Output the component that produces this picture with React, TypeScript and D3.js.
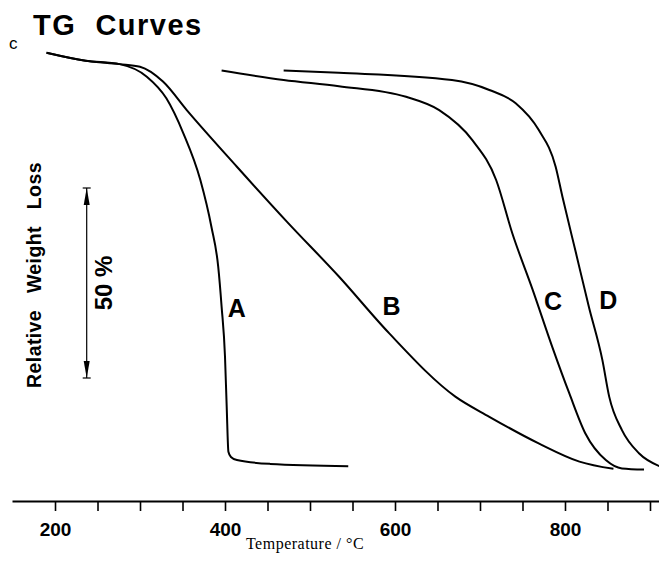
import React, { useRef, useEffect } from 'react';
import * as d3 from 'd3';

// temperature (°C) and relative weight loss (%)
const curveA = [
  [190, 1.9], [236, 4.0], [276, 4.9], [308, 8.2], [331, 13.9], [351, 23.1],
  [371, 35.4], [384, 47.7], [392, 58.2], [396, 68.7], [400, 81.9], [402, 95.1],
  [404, 106.9], [407, 108.3], [414, 109.1], [453, 110.1], [545, 110.7],
];
const curveB = [
  [190, 1.9], [236, 4.0], [276, 4.9], [300, 5.6], [327, 9.5], [355, 17.0],
  [414, 31.9], [473, 46.4], [534, 60.8], [593, 75.7], [671, 92.4], [711, 97.7],
  [769, 104.7], [817, 109.5], [857, 111.4],
];
const curveC = [
  [396, 6.6], [469, 9.1], [534, 10.7], [613, 13.5], [652, 17.0], [691, 24.9],
  [719, 35.4], [738, 49.4], [762, 64.3], [785, 79.3], [805, 91.5], [824, 102.1],
  [848, 109.1], [867, 111.3], [893, 111.6],
];
const curveD = [
  [469, 6.6], [534, 7.2], [667, 9.1], [711, 11.7], [742, 15.2], [769, 22.2],
  [789, 31.9], [797, 39.8], [813, 54.7], [828, 68.7], [844, 82.8], [852, 92.4],
  [867, 101.2], [887, 107.3], [911, 110.7],
];
const curveNames = ['A', 'B', 'C', 'D'];
// label anchor (temperature, % loss) for each curve letter
const labelPos = [[414, 71.5], [596, 70.9], [786, 69.7], [851, 69.4]];
const tickValues = d3.range(200, 901, 50);
const labelledTicks = [200, 400, 600, 800];
const scaleBar = [37.5, 87.5]; // the "50 %" bar

const font = 'Liberation Sans, Arial, Helvetica, sans-serif';

const App = () => {
  const ref = useRef(null);

  useEffect(() => {
    const svg = d3.select(ref.current);
    svg.selectAll('*').remove();

    const x = d3.scaleLinear().domain([149.4, 910.6]).range([12, 659]);
    const y = d3.scaleLinear().domain([0, 100]).range([45.5, 425.5]);

    // title + panel letter
    svg.append('text')
      .attr('x', 33).attr('y', 35)
      .attr('font-family', font).attr('font-weight', 'bold')
      .attr('font-size', 29).attr('letter-spacing', 1.5)
      .attr('xml:space', 'preserve')
      .text('TG  Curves');
    svg.append('text')
      .attr('x', 9).attr('y', 49)
      .attr('font-family', font).attr('font-size', 17)
      .text('c');

    // x axis
    const axis = svg.append('g')
      .attr('transform', 'translate(0,501)')
      .call(d3.axisBottom(x)
        .tickValues(tickValues)
        .tickSize(10)
        .tickSizeOuter(0)
        .tickPadding(11.5)
        .tickFormat(d => (labelledTicks.includes(d) ? String(d) : '')));
    axis.select('.domain').attr('stroke-width', 1.8);
    axis.selectAll('.tick line').attr('stroke-width', 1.6);
    axis.selectAll('text')
      .attr('font-family', font).attr('font-weight', 'bold')
      .attr('font-size', 19).attr('fill', '#000');

    svg.append('text')
      .attr('x', 305).attr('y', 549)
      .attr('text-anchor', 'middle')
      .attr('font-family', 'Liberation Serif, Times New Roman, serif')
      .attr('font-size', 16).attr('letter-spacing', 0.5)
      .text('Temperature / °C');

    // y label
    svg.append('text')
      .attr('transform', 'translate(40.5,275) rotate(-90)')
      .attr('text-anchor', 'middle')
      .attr('font-family', font).attr('font-weight', 'bold')
      .attr('font-size', 19.5).attr('letter-spacing', 0.4)
      .attr('word-spacing', 11)
      .text('Relative Weight Loss');

    // 50 % scale bar
    const bx = 86.7;
    const y0 = y(scaleBar[0]);
    const y1 = y(scaleBar[1]);
    const bar = svg.append('g').attr('stroke', '#000');
    bar.append('line').attr('x1', bx).attr('x2', bx).attr('y1', y0).attr('y2', y1).attr('stroke-width', 1.2);
    bar.append('line').attr('x1', bx - 4).attr('x2', bx + 4).attr('y1', y0).attr('y2', y0).attr('stroke-width', 1.2);
    bar.append('line').attr('x1', bx - 4).attr('x2', bx + 4).attr('y1', y1).attr('y2', y1).attr('stroke-width', 1.2);
    bar.append('path')
      .attr('d', `M${bx},${y0} L${bx - 3},${y0 + 17} L${bx + 3},${y0 + 17} Z`)
      .attr('fill', '#000').attr('stroke', 'none');
    bar.append('path')
      .attr('d', `M${bx},${y1} L${bx - 3},${y1 - 17} L${bx + 3},${y1 - 17} Z`)
      .attr('fill', '#000').attr('stroke', 'none');
    svg.append('text')
      .attr('transform', `translate(111.5,${(y0 + y1) / 2}) rotate(-90)`)
      .attr('text-anchor', 'middle')
      .attr('font-family', font).attr('font-weight', 'bold')
      .attr('font-size', 24)
      .text('50 %');

    // curves
    const line = d3.line()
      .x(d => x(d[0]))
      .y(d => y(d[1]))
      .curve(d3.curveMonotoneX);

    svg.append('g')
      .selectAll('path')
      .data([curveA, curveB, curveC, curveD])
      .join('path')
      .attr('d', d => line(d))
      .attr('fill', 'none')
      .attr('stroke', '#000')
      .attr('stroke-width', 2);

    svg.append('g')
      .selectAll('text')
      .data(curveNames)
      .join('text')
      .attr('x', (d, i) => x(labelPos[i][0]))
      .attr('y', (d, i) => y(labelPos[i][1]))
      .attr('text-anchor', 'middle')
      .attr('font-family', font).attr('font-weight', 'bold')
      .attr('font-size', 25)
      .text(d => d);
  }, []);

  return (
    <svg
      ref={ref}
      width={659}
      height={564}
      style={{ position: 'absolute', left: 0, top: 0, background: '#fff' }}
    />
  );
};

export default App;
